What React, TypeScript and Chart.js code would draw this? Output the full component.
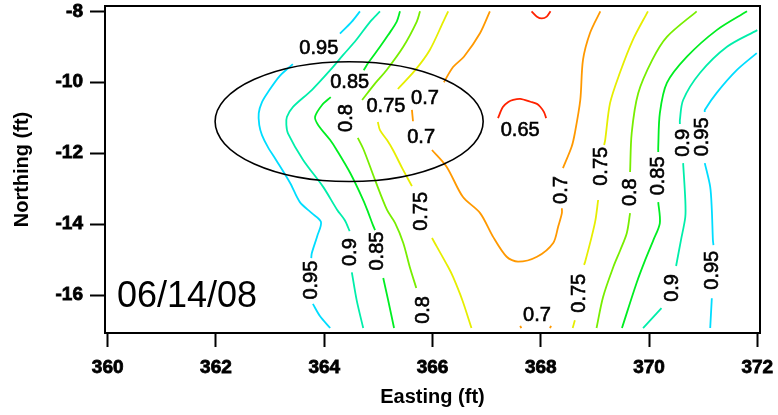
import React, { useEffect, useRef } from 'react';
import { Chart, registerables } from 'chart.js';

Chart.register(...registerables);

type Pt = [number, number];

const xTicks = [360, 362, 364, 366, 368, 370, 372];
const yTicks = [-16, -14, -12, -10, -8];

const levelValues = [0.65, 0.7, 0.75, 0.8, 0.85, 0.9, 0.95];
const levelColors = ['#ff2200', '#ff9900', '#e6ee00', '#77ee00', '#00ee22', '#00eeaa', '#00ddff'];

const contour065: Pt[][] = [
  [[367.83, -8], [367.93, -8.15], [368.02, -8.2], [368.11, -8.15], [368.18, -8]],
  [[367.21, -11.01], [367.3, -10.7], [367.4, -10.56], [367.49, -10.5], [367.62, -10.47], [367.81, -10.55], [367.93, -10.61], [367.99, -10.69], [368.06, -10.84], [368.1, -11.01]],
];

const contour070: Pt[][] = [
  [[367.06, -8], [366.88, -8.61], [366.58, -9.28], [366.38, -9.57], [366.21, -10.0]],
  [[365.62, -10.78], [365.64, -11.1]],
  [[365.99, -11.91], [366.26, -12.38], [366.56, -13.23], [366.88, -13.69], [367.12, -14.36], [367.37, -14.92], [367.58, -15.06], [367.93, -14.92], [368.23, -14.53], [368.32, -14.08], [368.39, -13.69], [368.39, -13.55]],
  [[368.41, -12.42], [368.57, -11.82], [368.63, -11.43], [368.73, -10.5], [368.78, -9.37], [368.91, -8.61], [369.1, -8]],
  [[367.62, -16.87], [367.64, -16.93]],
  [[368.17, -16.93], [368.19, -16.87]],
];

const contour075: Pt[][] = [
  [[366.29, -8], [366.2, -8.29], [365.95, -9.09], [365.68, -9.66], [365.36, -10.19]],
  [[364.99, -11.12], [365.03, -11.35], [365.16, -11.63], [365.27, -11.91], [365.44, -12.42], [365.62, -12.93]],
  [[365.99, -14.39], [366.29, -15.21], [366.38, -15.49], [366.55, -16.14], [366.72, -16.93]],
  [[369.98, -8], [369.7, -8.81], [369.46, -9.74], [369.28, -10.59], [369.19, -11.63], [369.17, -11.77]],
  [[369.06, -13.32], [369.01, -13.89], [368.94, -14.36], [368.82, -15.06], [368.8, -15.15]],
  [[368.63, -16.71], [368.59, -16.93]],
];

const contour080: Pt[][] = [
  [[365.77, -8], [365.71, -8.29], [365.46, -9.0], [365.15, -9.66], [364.94, -10.03], [364.7, -10.5]],
  [[364.62, -11.57], [364.73, -11.91], [364.94, -12.76], [365.16, -13.6], [365.31, -13.97], [365.46, -14.53], [365.58, -15.21], [365.7, -15.8]],
  [[370.88, -8], [370.33, -8.72], [370.06, -9.37], [369.8, -10.31], [369.68, -11.43], [369.65, -12.53]],
  [[369.65, -13.69], [369.59, -14.25], [369.47, -14.73], [369.34, -15.21], [369.15, -16.06], [369.03, -16.93]],
];

const contour085: Pt[][] = [
  [[365.4, -8], [365.34, -8.29], [365.18, -8.67], [365.03, -9.0], [364.81, -9.46], [364.73, -9.66]],
  [[364.12, -10.42], [363.96, -10.64], [363.83, -10.98], [363.89, -11.21], [364.11, -11.63], [364.23, -11.91], [364.48, -12.56], [364.72, -13.32], [364.81, -13.66], [364.9, -14.03], [364.94, -14.17]],
  [[365.09, -15.52], [365.18, -16.14], [365.29, -16.93]],
  [[371.81, -8], [371.25, -8.53], [370.7, -9.28], [370.33, -10.02], [370.2, -10.87], [370.17, -11.83], [370.17, -11.97]],
  [[370.17, -13.38], [370.2, -13.97], [370.08, -14.45], [369.93, -15.01], [369.77, -15.66], [369.5, -16.93]],
];

const contour090: Pt[][] = [
  [[365.03, -8], [364.85, -8.29], [364.59, -8.81], [364.35, -9.23], [364.11, -9.66], [363.77, -10.22], [363.42, -10.7], [363.31, -10.98], [363.3, -11.2], [363.33, -11.44], [363.61, -12.19], [363.98, -12.95], [364.24, -13.6], [364.38, -13.89], [364.47, -14.2]],
  [[364.51, -15.36], [364.6, -16.15], [364.72, -16.93]],
  [[372.0, -8.53], [371.44, -9.0], [370.94, -9.74], [370.63, -10.5], [370.57, -11.06], [370.57, -11.18]],
  [[370.63, -12.28], [370.67, -13.32], [370.67, -13.8], [370.59, -14.45], [370.5, -15.18]],
  [[370.23, -16.37], [370.06, -16.65], [369.89, -16.93]],
];

const contour095: Pt[][] = [
  [[364.66, -8], [364.51, -8.29], [364.29, -8.63]],
  [[363.42, -9.49], [363.18, -9.82], [362.96, -10.28], [362.85, -10.56], [362.79, -10.87], [362.8, -11.21], [362.85, -11.49], [362.96, -11.83], [363.11, -12.19], [363.37, -12.84], [363.55, -13.38], [363.77, -13.69], [363.94, -13.94], [363.87, -14.34], [363.77, -14.82], [363.76, -14.96]],
  [[363.79, -16.25], [363.92, -16.59], [364.11, -16.93]],
  [[371.99, -9.18], [371.62, -9.66], [371.25, -10.3], [371.03, -10.78], [371.03, -10.84]],
  [[371.03, -12.28], [371.13, -12.95], [371.16, -13.6], [371.18, -14.45], [371.19, -14.59]],
  [[371.16, -16.09], [371.13, -16.93]],
];

const contours: Pt[][][] = [contour065, contour070, contour075, contour080, contour085, contour090, contour095];

// contour labels: text, position (data units), rotation (degrees)
const labelTexts = ['0.95', '0.85', '0.8', '0.75', '0.7', '0.7', '0.65', '0.95', '0.9', '0.85', '0.75', '0.8', '0.7',
  '0.7', '0.75', '0.75', '0.8', '0.85', '0.9', '0.9', '0.95', '0.95'];
const labelX = [363.9, 364.47, 364.42, 365.14, 365.86, 365.79, 367.62, 363.76, 364.49, 364.99, 365.79, 365.83, 367.93,
  368.39, 369.13, 368.72, 369.65, 370.17, 370.63, 370.43, 370.99, 371.18];
const labelY = [-9.06, -10.02, -11.01, -10.67, -10.45, -11.57, -11.35, -15.58, -14.79, -14.76, -13.64, -16.42, -16.59,
  -13.04, -12.37, -15.95, -13.1, -12.64, -11.71, -15.8, -11.54, -15.3];
const labelRot = [0, 0, -90, 0, 0, 0, 0, -90, -90, -90, -90, -90, 0,
  -90, -90, -90, -90, -90, -90, -90, -90, -90];

const ellipseCenter: Pt = [364.46, -11.11];
const ellipseRadii: Pt = [2.476, 1.69];

const dateText = '06/14/08';
const datePos: Pt = [360.17, -16.33];

const FONT = '"Liberation Sans", Arial, Helvetica, sans-serif';

const overlayPlugin = {
  id: 'overlay',
  afterDatasetsDraw(chart: any) {
    const { ctx, chartArea } = chart;
    const xs = chart.scales.x;
    const ys = chart.scales.y;
    ctx.save();
    // ellipse
    const cx = xs.getPixelForValue(ellipseCenter[0]);
    const cy = ys.getPixelForValue(ellipseCenter[1]);
    const rx = Math.abs(xs.getPixelForValue(ellipseCenter[0] + ellipseRadii[0]) - cx);
    const ry = Math.abs(ys.getPixelForValue(ellipseCenter[1] + ellipseRadii[1]) - cy);
    ctx.beginPath();
    ctx.ellipse(cx, cy, rx, ry, 0, 0, Math.PI * 2);
    ctx.lineWidth = 1.6;
    ctx.strokeStyle = '#000';
    ctx.stroke();

    // contour labels
    ctx.fillStyle = '#000';
    ctx.strokeStyle = '#000';
    ctx.lineWidth = 0.6;
    ctx.font = `20px ${FONT}`;
    ctx.textAlign = 'center';
    ctx.textBaseline = 'middle';
    labelTexts.forEach((t, i) => {
      const px = xs.getPixelForValue(labelX[i]);
      const py = ys.getPixelForValue(labelY[i]);
      ctx.save();
      ctx.translate(px, py);
      ctx.rotate((labelRot[i] * Math.PI) / 180);
      ctx.fillText(t, 0, 0);
      ctx.strokeText(t, 0, 0);
      ctx.restore();
    });

    // date text
    ctx.font = `36px ${FONT}`;
    ctx.textAlign = 'left';
    ctx.textBaseline = 'alphabetic';
    ctx.fillText(dateText, xs.getPixelForValue(datePos[0]), ys.getPixelForValue(datePos[1]));

    // frame top & right
    ctx.beginPath();
    ctx.moveTo(chartArea.left, chartArea.top);
    ctx.lineTo(chartArea.right, chartArea.top);
    ctx.lineTo(chartArea.right, chartArea.bottom);
    ctx.lineWidth = 2;
    ctx.strokeStyle = '#000';
    ctx.stroke();
    ctx.restore();
  },
};

export default function App() {
  const ref = useRef<HTMLCanvasElement>(null);

  useEffect(() => {
    const datasets: any[] = [];
    contours.forEach((segs, i) => {
      segs.forEach((seg) => {
        datasets.push({
          label: String(levelValues[i]),
          data: seg.map(([x, y]) => ({ x, y })),
          showLine: true,
          borderColor: levelColors[i],
          backgroundColor: levelColors[i],
          borderWidth: 1.8,
          pointRadius: 0,
          tension: 0.3,
          fill: false,
        });
      });
    });

    const chart = new Chart(ref.current as HTMLCanvasElement, {
      type: 'scatter',
      data: { datasets },
      plugins: [overlayPlugin],
      options: {
        responsive: false,
        animation: false,
        devicePixelRatio: 1,
        layout: { padding: { left: 0, right: 18, top: 6, bottom: 0 } },
        plugins: { legend: { display: false }, tooltip: { enabled: false } },
        scales: {
          x: {
            type: 'linear',
            min: 359.95,
            max: 372.05,
            afterBuildTicks: (scale: any) => {
              scale.ticks = xTicks.map((v) => ({ value: v }));
            },
            afterFit: (scale: any) => {
              scale.height = 82;
              scale.paddingLeft = 0;
              scale.paddingRight = 0;
            },
            ticks: {
              color: '#000',
              font: { family: FONT, size: 19, weight: 'bold' },
              padding: 9,
              maxRotation: 0,
              textStrokeColor: '#000',
              textStrokeWidth: 0.8,
              callback: (v: any) => String(v),
            },
            grid: { drawOnChartArea: false, drawTicks: true, tickLength: 14, tickWidth: 2, tickColor: '#000' },
            border: { display: true, color: '#000', width: 2 },
            title: {
              display: true,
              text: 'Easting (ft)',
              color: '#000',
              font: { family: FONT, size: 20, weight: 'bold' },
              padding: { top: 0, bottom: 6 },
            },
          },
          y: {
            type: 'linear',
            min: -17.07,
            max: -7.85,
            afterBuildTicks: (scale: any) => {
              scale.ticks = yTicks.map((v) => ({ value: v }));
            },
            afterFit: (scale: any) => {
              scale.width = 105;
              scale.paddingTop = 0;
              scale.paddingBottom = 0;
            },
            ticks: {
              color: '#000',
              font: { family: FONT, size: 19, weight: 'bold' },
              padding: 7,
              textStrokeColor: '#000',
              textStrokeWidth: 0.8,
              callback: (v: any) => String(v),
            },
            grid: { drawOnChartArea: false, drawTicks: true, tickLength: 15, tickWidth: 2, tickColor: '#000' },
            border: { display: true, color: '#000', width: 2 },
            title: {
              display: true,
              text: 'Northing (ft)',
              color: '#000',
              font: { family: FONT, size: 20, weight: 'bold' },
              padding: { top: 10, bottom: 0 },
            },
          },
        },
      },
    });
    return () => chart.destroy();
  }, []);

  return (
    <div style={{ position: 'absolute', left: 0, top: 0, width: 778, height: 415, background: '#fff' }}>
      <canvas ref={ref} width={778} height={415} style={{ display: 'block', width: 778, height: 415 }} />
    </div>
  );
}
